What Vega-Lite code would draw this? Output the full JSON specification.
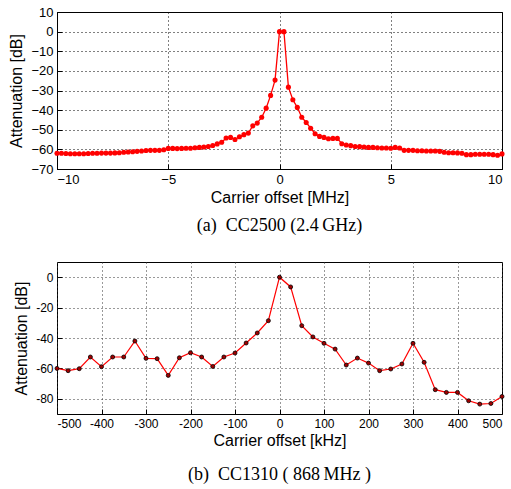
{
  "$schema": "https://vega.github.io/schema/vega-lite/v6.json",
  "padding": {"left": 8, "top": 5, "right": 8, "bottom": 4},
  "background": "white",
  "spacing": 25,
  "config": {
    "view": {"stroke": "black", "strokeWidth": 1},
    "axis": {
      "labelFont": "Liberation Sans", "titleFont": "Liberation Sans",
      "labelColor": "black", "titleColor": "black",
      "titleFontWeight": "normal", "titleFontSize": 16,
      "domain": false, "tickColor": "black", "tickSize": -5,
      "gridColor": "black", "gridDash": [1, 3], "gridOpacity": 1, "gridWidth": 1
    },
    "title": {"font": "Liberation Serif", "fontSize": 18, "fontWeight": "normal", "color": "black", "orient": "bottom", "anchor": "middle"}
  },
  "datasets": {
    "a": [
      {"f": -10, "db": -62}, {"f": -9.8, "db": -62}, {"f": -9.6, "db": -62.1}, {"f": -9.4, "db": -62.2}, {"f": -9.2, "db": -62.2},
      {"f": -9.0, "db": -62.2}, {"f": -8.8, "db": -62.2}, {"f": -8.6, "db": -62.1}, {"f": -8.4, "db": -62}, {"f": -8.2, "db": -62},
      {"f": -8.0, "db": -61.9}, {"f": -7.8, "db": -61.9}, {"f": -7.6, "db": -61.9}, {"f": -7.4, "db": -61.8}, {"f": -7.2, "db": -61.7},
      {"f": -7.0, "db": -61.5}, {"f": -6.8, "db": -61.3}, {"f": -6.6, "db": -61.2}, {"f": -6.4, "db": -61}, {"f": -6.2, "db": -60.8},
      {"f": -6.0, "db": -60.6}, {"f": -5.8, "db": -60.5}, {"f": -5.6, "db": -60.5}, {"f": -5.4, "db": -60.5}, {"f": -5.2, "db": -60.2},
      {"f": -5.0, "db": -59.5}, {"f": -4.8, "db": -59.5}, {"f": -4.6, "db": -59.6}, {"f": -4.4, "db": -59.5}, {"f": -4.2, "db": -59.4},
      {"f": -4.0, "db": -59.4}, {"f": -3.8, "db": -59.2}, {"f": -3.6, "db": -59}, {"f": -3.4, "db": -58.8}, {"f": -3.2, "db": -58.5},
      {"f": -3.0, "db": -58}, {"f": -2.8, "db": -57.2}, {"f": -2.6, "db": -56.4}, {"f": -2.4, "db": -54.2}, {"f": -2.2, "db": -53.9},
      {"f": -2.0, "db": -55}, {"f": -1.8, "db": -53.6}, {"f": -1.6, "db": -52.5}, {"f": -1.4, "db": -51.7}, {"f": -1.2, "db": -48},
      {"f": -1.0, "db": -46.6}, {"f": -0.8, "db": -43.6}, {"f": -0.6, "db": -39}, {"f": -0.4, "db": -32.5}, {"f": -0.2, "db": -24.7},
      {"f": 0, "db": 0}, {"f": 0.2, "db": 0},
      {"f": 0.4, "db": -28.3}, {"f": 0.6, "db": -34.7}, {"f": 0.8, "db": -38.6}, {"f": 1.0, "db": -43.6}, {"f": 1.2, "db": -46.3},
      {"f": 1.4, "db": -49.2}, {"f": 1.6, "db": -52}, {"f": 1.8, "db": -53.4}, {"f": 2.0, "db": -53.9}, {"f": 2.2, "db": -54.6},
      {"f": 2.4, "db": -54.4}, {"f": 2.6, "db": -54.4}, {"f": 2.8, "db": -57.1}, {"f": 3.0, "db": -57.8}, {"f": 3.2, "db": -58.1},
      {"f": 3.4, "db": -58.5}, {"f": 3.6, "db": -58.6}, {"f": 3.8, "db": -58.8}, {"f": 4.0, "db": -59}, {"f": 4.2, "db": -59},
      {"f": 4.4, "db": -59.2}, {"f": 4.6, "db": -59.3}, {"f": 4.8, "db": -59.3}, {"f": 5.0, "db": -59.4}, {"f": 5.2, "db": -59},
      {"f": 5.4, "db": -59.3}, {"f": 5.6, "db": -60.5}, {"f": 5.8, "db": -60.5}, {"f": 6.0, "db": -60.5}, {"f": 6.2, "db": -60.7},
      {"f": 6.4, "db": -60.7}, {"f": 6.6, "db": -60.8}, {"f": 6.8, "db": -60.8}, {"f": 7.0, "db": -60.8}, {"f": 7.2, "db": -61},
      {"f": 7.4, "db": -61.5}, {"f": 7.6, "db": -61.7}, {"f": 7.8, "db": -61.7}, {"f": 8.0, "db": -61.8}, {"f": 8.2, "db": -62},
      {"f": 8.4, "db": -62.7}, {"f": 8.6, "db": -62.7}, {"f": 8.8, "db": -62.5}, {"f": 9.0, "db": -62.5}, {"f": 9.2, "db": -62.5},
      {"f": 9.4, "db": -62.5}, {"f": 9.6, "db": -62.7}, {"f": 9.8, "db": -63}, {"f": 10.0, "db": -62.3}
    ],
    "b": [
      {"f": -500, "db": -60}, {"f": -475, "db": -61.5}, {"f": -450, "db": -60.2}, {"f": -425, "db": -52.5}, {"f": -400, "db": -58.9},
      {"f": -375, "db": -52.5}, {"f": -350, "db": -52.5}, {"f": -325, "db": -42}, {"f": -300, "db": -53.4}, {"f": -275, "db": -53.6},
      {"f": -250, "db": -64.6}, {"f": -225, "db": -53}, {"f": -200, "db": -49.7}, {"f": -175, "db": -52.5}, {"f": -150, "db": -58.7},
      {"f": -125, "db": -52.5}, {"f": -100, "db": -49.9}, {"f": -75, "db": -43.3}, {"f": -50, "db": -36.7}, {"f": -25, "db": -28.6},
      {"f": 0, "db": 0}, {"f": 25, "db": -6.4}, {"f": 50, "db": -31.9}, {"f": 75, "db": -39.3}, {"f": 100, "db": -43.5},
      {"f": 125, "db": -47.3}, {"f": 150, "db": -57.8}, {"f": 175, "db": -53.2}, {"f": 200, "db": -56.5}, {"f": 225, "db": -61.5},
      {"f": 250, "db": -60.4}, {"f": 275, "db": -57.1}, {"f": 300, "db": -43.5}, {"f": 325, "db": -56}, {"f": 350, "db": -74},
      {"f": 375, "db": -75.8}, {"f": 400, "db": -75.8}, {"f": 425, "db": -81.3}, {"f": 450, "db": -83.5}, {"f": 475, "db": -83.1},
      {"f": 500, "db": -78.5}
    ]
  },
  "vconcat": [
    {
      "width": 445, "height": 157,
      "title": {"text": "(a)\u00a0\u00a0CC2500 (2.4\u2009GHz)", "offset": 12},
      "data": {"name": "a"},
      "encoding": {
        "x": {"field": "f", "type": "quantitative", "scale": {"domain": [-10, 10], "nice": false},
          "axis": {"values": [-10, -5, 0, 5, 10], "title": "Carrier offset [MHz]", "labelFontSize": 13, "labelPadding": 9, "titlePadding": 3}},
        "y": {"field": "db", "type": "quantitative", "scale": {"domain": [-70, 10], "nice": false},
          "axis": {"values": [10, 0, -10, -20, -30, -40, -50, -60, -70], "title": "Attenuation [dB]", "labelFontSize": 13, "labelPadding": 9, "titlePadding": 6}}
      },
      "layer": [
        {"mark": {"type": "line", "color": "#ff0000", "strokeWidth": 1.3}},
        {"mark": {"type": "point", "filled": true, "color": "#ff0000", "size": 26, "opacity": 1}}
      ]
    },
    {
      "width": 445, "height": 152,
      "title": {"text": "(b)\u00a0\u00a0CC1310 ( 868\u2009MHz )", "offset": 18},
      "data": {"name": "b"},
      "encoding": {
        "x": {"field": "f", "type": "quantitative", "scale": {"domain": [-500, 500], "nice": false},
          "axis": {"values": [-500, -400, -300, -200, -100, 0, 100, 200, 300, 400, 500], "labelExpr": "toString(datum.value)", "title": "Carrier offset [kHz]", "labelFontSize": 12, "labelPadding": 9, "titlePadding": 3, "gridColor": "#333"}},
        "y": {"field": "db", "type": "quantitative", "scale": {"domain": [-90, 10], "nice": false},
          "axis": {"values": [0, -20, -40, -60, -80], "labelExpr": "toString(datum.value)", "title": "Attenuation [dB]", "labelFontSize": 12, "labelPadding": 9, "titlePadding": 6, "gridColor": "#333"}}
      },
      "layer": [
        {"mark": {"type": "line", "color": "#ff0000", "strokeWidth": 1.2}},
        {"mark": {"type": "point", "filled": true, "fill": "#a00000", "stroke": "black", "strokeWidth": 0.8, "size": 16, "opacity": 1}}
      ]
    }
  ]
}
